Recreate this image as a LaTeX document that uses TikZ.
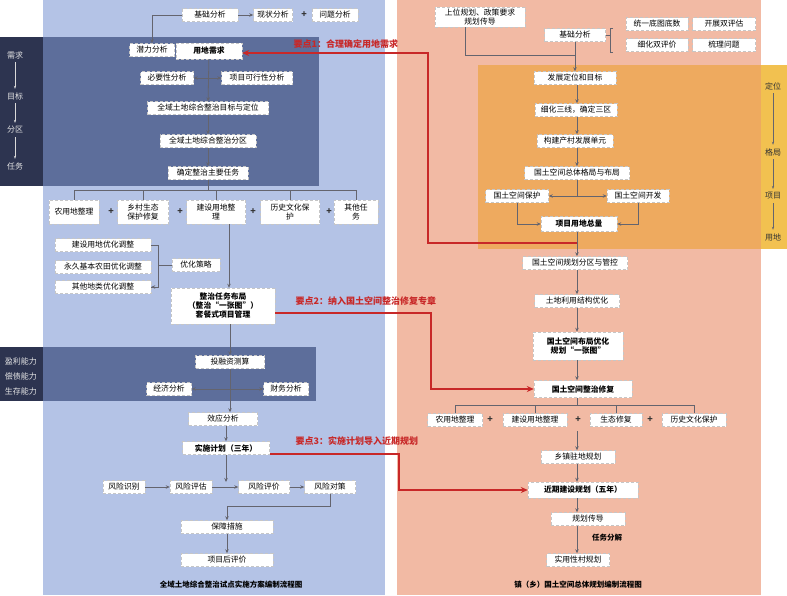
\documentclass[tikz,border=0pt]{standalone}
\usepackage{fontspec}
\setmainfont{Noto Sans CJK SC}
\usetikzlibrary{arrows.meta}
\definecolor{blueBg}{RGB}{180,195,230}
\definecolor{darkBlue}{RGB}{93,110,155}
\definecolor{navyStrip}{RGB}{45,52,80}
\definecolor{salmonBg}{RGB}{242,186,164}
\definecolor{orangeBg}{RGB}{238,170,95}
\definecolor{yellowStrip}{RGB}{242,193,80}
\definecolor{keyRed}{RGB}{200,40,40}
\definecolor{lineGray}{RGB}{100,100,110}
\tikzset{
  box/.style={draw=gray!45,fill=white,densely dashed,font=\fontsize{7.8}{9}\selectfont,minimum height=13,inner sep=1.5,align=center},
  bbox/.style={box,font=\fontsize{7.8}{9}\selectfont\bfseries},
  flow/.style={draw=lineGray,line width=0.8,-{Stealth[length=4pt,width=3.5pt]}},
  link/.style={draw=lineGray,line width=0.8},
  key/.style={draw=keyRed,line width=1.4,-{Stealth[length=7pt,width=6pt]}},
  keytext/.style={text=keyRed,font=\fontsize{9}{11}\selectfont\bfseries,anchor=west},
  plus/.style={font=\bfseries\fontsize{9}{9}\selectfont,text=black!80},
  side/.style={text=white!90!black,font=\fontsize{8}{10}\selectfont},
  captext/.style={font=\fontsize{7.5}{9}\selectfont\bfseries}
}
\begin{document}
\begin{tikzpicture}[x=1pt,y=-1pt]
\useasboundingbox (0,0) rectangle (787,595);
% backgrounds
\fill[blueBg] (43,0) rectangle (385,595);
\fill[salmonBg] (397,0) rectangle (761,595);
\fill[darkBlue] (43,37) rectangle (319,186);
\fill[navyStrip] (0,37) rectangle (43,186);
\fill[darkBlue] (43,347) rectangle (316,401);
\fill[navyStrip] (0,347) rectangle (43,401);
\fill[orangeBg] (478,65) rectangle (761,249);
\fill[yellowStrip] (761,65) rectangle (787,249);

% left side labels
\node[side] (sxq) at (15,55) {需求};
\node[side] (smb) at (15,96) {目标};
\node[side] (sfq) at (15,130) {分区};
\node[side] (srw) at (15,166) {任务};
\foreach \a/\b in {sxq/smb,smb/sfq,sfq/srw}
  \draw[white!85!black,line width=0.6,-{Stealth[length=3pt]}] (\a) -- (\b);
\node[side] (syl) at (21,361) {盈利能力};
\node[side] (sch) at (21,376) {偿债能力};
\node[side] (ssc) at (21,391) {生存能力};

% left flow
\node[box,minimum width=56] (jcfx) at (210,15) {基础分析};
\node[box,minimum width=39] (xzfx) at (273,15) {现状分析};
\node[plus] at (304,15) {+};
\node[box,minimum width=46] (wtfx) at (335,15) {问题分析};
\node[box,minimum width=45] (qlfx) at (152,50) {潜力分析};
\node[plus,text=gray!60] at (179,50) {+};
\node[bbox,minimum width=66,minimum height=16] (ydxq) at (209,51) {用地需求};
\node[box,minimum width=53] (byx) at (167,78) {必要性分析};
\node[box,minimum width=71] (kxx) at (257,78) {项目可行性分析};
\node[box,minimum width=121] (mbdw) at (208,108) {全域土地综合整治目标与定位};
\node[box,minimum width=96] (zzfq) at (208,141) {全域土地综合整治分区};
\node[box,minimum width=80] (zyrw) at (208,173) {确定整治主要任务};
\node[box,minimum width=50,minimum height=24] (nyd) at (74,212) {农用地整理};
\node[plus] at (111,212) {+};
\node[box,minimum width=51,minimum height=24] (stxf) at (143,212) {乡村生态\\保护修复};
\node[plus] at (180,212) {+};
\node[box,minimum width=59,minimum height=24] (jsyd) at (216,212) {建设用地整\\理};
\node[plus] at (253,212) {+};
\node[box,minimum width=59,minimum height=24] (lsww) at (290,212) {历史文化保\\护};
\node[plus] at (329,212) {+};
\node[box,minimum width=44,minimum height=24] (qtrw) at (356,212) {其他任\\务};
\node[box,minimum width=96] (yhjs) at (103,245) {建设用地优化调整};
\node[box,minimum width=96] (yhnt) at (103,267) {永久基本农田优化调整};
\node[box,minimum width=96] (yhqt) at (103,287) {其他地类优化调整};
\node[box,minimum width=48] (yhcl) at (196,265) {优化策略};
\node[bbox,minimum width=104,minimum height=36] (rwbj) at (223,306) {整治任务布局\\（整治“一张图”）\\套餐式项目管理};
\node[box,minimum width=69] (trz) at (230,362) {投融资测算};
\node[box,minimum width=45] (jjfx) at (169,389) {经济分析};
\node[box,minimum width=45] (cwfx) at (286,389) {财务分析};
\node[box,minimum width=69] (xyfx) at (223,419) {效应分析};
\node[bbox,minimum width=87] (sxjh) at (226,448) {实施计划（三年）};
\node[box,minimum width=42] (fxsb) at (124,487) {风险识别};
\node[box,minimum width=42] (fxpg) at (191,487) {风险评估};
\node[box,minimum width=51] (fxpj) at (264,487) {风险评价};
\node[box,minimum width=51] (fxdc) at (330,487) {风险对策};
\node[box,minimum width=92] (bzcs) at (227,527) {保障措施};
\node[box,minimum width=92] (xmhp) at (227,560) {项目后评价};
\node[captext] (capl) at (231,585) {全域土地综合整治试点实施方案编制流程图};

\draw[flow] (jcfx) -- (xzfx);
\draw[flow] (jcfx.west) -| (qlfx.north);
\draw[flow] (ydxq) -- (mbdw);
\draw[flow] (208,78) -- (byx);
\draw[flow] (208,78) -- (kxx);
\draw[flow] (mbdw) -- (zzfq);
\draw[flow] (zzfq) -- (zyrw);
\draw[link] (zyrw.south) -- (208,190);
\draw[link] (nyd.north) |- (qtrw.north |- 0,190) -- (qtrw.north);
\foreach \t in {stxf,jsyd,lsww} \draw[link] (\t.north) -- (\t.north |- 0,190);
\draw[link] (yhjs.east) -- ++(7,0) |- (yhqt.east);
\draw[flow] (158,287) -- (yhqt.east);
\draw[link] (158,265) -- (yhcl.west);
\draw[flow] (jsyd.south -| 229,0) -- (rwbj.north -| 229,0);
\draw[flow] (rwbj.south -| trz.north) -- (trz.north);
\draw[flow] (trz.south) -- (xyfx.north -| trz.south);
\draw[flow] (230,389) -- (jjfx);
\draw[flow] (230,389) -- (cwfx);
\draw[flow] (xyfx.south -| 226,0) -- (sxjh.north);
\draw[flow] (sxjh.south) -- (226,482);
\draw[flow] (fxsb) -- (fxpg);
\draw[flow] (fxpg) -- (fxpj);
\draw[flow] (fxpj) -- (fxdc);
\draw[flow] (fxdc.south) |- (227,506) -- (bzcs.north);
\draw[flow] (bzcs) -- (xmhp);

% right side labels
\node[text=black!80,font=\fontsize{8}{10}\selectfont] (rdw) at (773,86) {定位};
\node[text=black!80,font=\fontsize{8}{10}\selectfont] (rgj) at (773,152) {格局};
\node[text=black!80,font=\fontsize{8}{10}\selectfont] (rxm) at (773,196) {项目};
\node[text=black!80,font=\fontsize{8}{10}\selectfont] (ryd) at (773,237) {用地};
\foreach \a/\b in {rdw/rgj,rgj/rxm,rxm/ryd}
  \draw[lineGray,line width=0.6,-{Stealth[length=3pt]}] (\a) -- (\b);

% right flow
\node[box,minimum width=90,minimum height=20] (swgh) at (480,17) {上位规划、政策要求\\规划传导};
\node[box,minimum width=61] (jcfx2) at (575,35) {基础分析};
\node[box,minimum width=62] (tydt) at (657,24) {统一底图底数};
\node[box,minimum width=63] (sppg) at (724,24) {开展双评估};
\node[box,minimum width=62] (sppj) at (657,45) {细化双评价};
\node[box,minimum width=63] (sltw) at (724,45) {梳理问题};
\node[box,minimum width=82] (fzdw) at (575,78) {发展定位和目标};
\node[box,minimum width=82] (sxsq) at (576,110) {细化三线，确定三区};
\node[box,minimum width=76] (ccdy) at (575,141) {构建产村发展单元};
\node[box,minimum width=105] (ztgj) at (577,173) {国土空间总体格局与布局};
\node[box,minimum width=63] (kjbh) at (517,196) {国土空间保护};
\node[box,minimum width=62] (kjkf) at (638,196) {国土空间开发};
\node[bbox,minimum width=76,minimum height=15] (ydzl) at (579,224) {项目用地总量};
\node[box,minimum width=105] (fqgk) at (575,263) {国土空间规划分区与管控};
\node[box,minimum width=85] (jgyh) at (577,301) {土地利用结构优化};
\node[bbox,minimum width=90,minimum height=28] (bjyh) at (578,346) {国土空间布局优化\\规划“一张图”};
\node[bbox,minimum width=98,minimum height=17] (zzxf) at (583,389) {国土空间整治修复};
\node[box,minimum width=55] (nyd2) at (455,420) {农用地整理};
\node[plus] at (490,420) {+};
\node[box,minimum width=64] (jsyd2) at (535,420) {建设用地整理};
\node[plus] at (578,420) {+};
\node[box,minimum width=52] (stxf2) at (616,420) {生态修复};
\node[plus] at (650,420) {+};
\node[box,minimum width=64] (lsww2) at (694,420) {历史文化保护};
\node[box,minimum width=74] (xzzd) at (578,457) {乡镇驻地规划};
\node[bbox,minimum width=110,minimum height=16] (jqjs) at (583,490) {近期建设规划（五年）};
\node[box,minimum width=74] (ghcd) at (588,519) {规划传导};
\node[box,minimum width=63] (syxc) at (578,560) {实用性村规划};
\node[captext] (rwfj) at (607,538) {任务分解};
\node[captext] (capr) at (578,585) {镇（乡）国土空间总体规划编制流程图};

\draw[link] (jcfx2.east) -- ++(5,0);
\draw[link] (613,28) -- (610,28) -- (610,52) -- (613,52);
\draw[flow] (swgh.south -| 465,0) |- (575,55) -- (fzdw.north);
\draw[link] (jcfx2.south) -- (575,55);
\foreach \a/\b in {fzdw/sxsq,sxsq/ccdy,ccdy/ztgj,ydzl/fqgk,fqgk/jgyh,jgyh/bjyh,bjyh/zzxf,xzzd/jqjs,jqjs/ghcd}
  \draw[flow] (\a.south -| 577,0) -- (\b.north -| 577,0);
\draw[flow] (ghcd.south -| 577,0) -- (syxc.north -| 577,0);
\draw[link] (ztgj.south) -- (577,196);
\draw[flow] (577,196) -- (kjbh);
\draw[flow] (577,196) -- (kjkf);
\draw[flow] (kjbh.south) |- (ydzl.west);
\draw[flow] (kjkf.south) |- (ydzl.east);
\draw[link] (zzxf.south -| 577,0) -- (577,405);
\draw[link] (nyd2.north) |- (lsww2.north |- 0,405) -- (lsww2.north);
\foreach \t in {jsyd2,stxf2} \draw[link] (\t.north) -- (\t.north |- 0,405);
\draw[flow] (577,431) -- (xzzd.north -| 577,0);

% key points
\node[keytext] (yd1) at (290,44) {要点1：合理确定用地需求};
\node[keytext] (yd2) at (292,301) {要点2：纳入国土空间整治修复专章};
\node[keytext] (yd3) at (292,441) {要点3：实施计划导入近期规划};
\draw[key] (577,243) -- (428,243) -- (428,53) -- (ydxq.east |- 0,53);
\draw[key] (rwbj.east |- 0,313) -- (431,313) |- (zzxf.west);
\draw[key] (sxjh.east |- 0,454) -- (399,454) |- (jqjs.west);
\end{tikzpicture}
\end{document}
